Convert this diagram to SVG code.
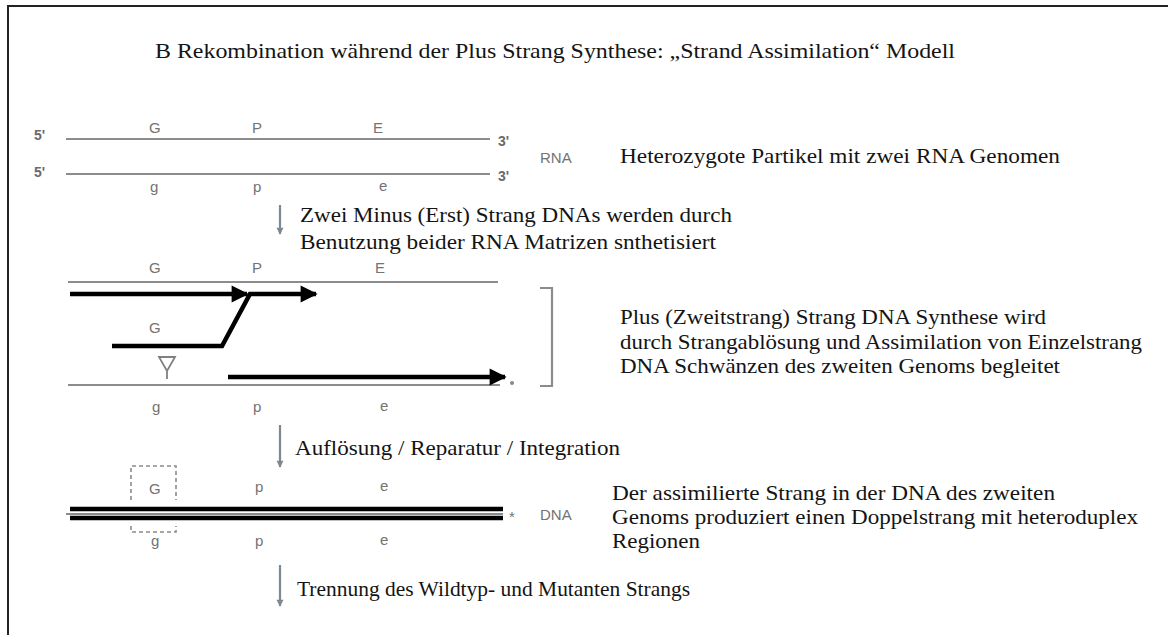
<svg xmlns="http://www.w3.org/2000/svg" width="1168" height="635" viewBox="0 0 1168 635">
  <style>
    .txt { font-family: 'Liberation Serif', 'DejaVu Serif', serif; font-size: 21.5px; fill: #141414; }
    .lbl { font-family: 'Liberation Sans', 'DejaVu Sans', sans-serif; font-size: 15px; fill: #737373; }
    .lblb { font-family: 'Liberation Sans', 'DejaVu Sans', sans-serif; font-size: 14px; font-weight: bold; fill: #6a6a6a; }
    .strand { stroke: #8c8c8c; stroke-width: 2.2; fill: none; }
    .dna { stroke: #000; stroke-width: 4.5; fill: none; }
    .bold { stroke: #000; stroke-width: 4.5; fill: none; stroke-linejoin: miter; }
    .step { stroke: #7e8890; stroke-width: 2.2; fill: none; }
  </style>
  <defs>
    <marker id="headBlack" viewBox="0 0 10 10" refX="9" refY="5" markerWidth="4.6" markerHeight="3.8" markerUnits="strokeWidth" orient="auto">
      <path d="M0,0 L10,5 L0,10 Z" fill="#000"/>
    </marker>
    <marker id="headGray" viewBox="0 0 10 10" refX="9" refY="5" markerWidth="7" markerHeight="3.2" markerUnits="strokeWidth" orient="auto">
      <path d="M0,0 L10,5 L0,10 Z" fill="#7e8890"/>
    </marker>
  </defs>

  <rect width="1168" height="635" fill="#ffffff"/>
  <!-- frame -->
  <rect x="8" y="6" width="1200" height="660" fill="none" stroke="#222" stroke-width="2"/>

  <!-- title -->
  <text class="txt" x="155" y="58" textLength="800" lengthAdjust="spacingAndGlyphs">B Rekombination während der Plus Strang Synthese: „Strand Assimilation“ Modell</text>

  <!-- RNA genomes -->
  <g id="rna">
    <line class="strand" x1="66" y1="139" x2="490" y2="139"/>
    <line class="strand" x1="66" y1="174" x2="490" y2="174"/>
    <text class="lblb" x="34" y="140">5'</text>
    <text class="lblb" x="498" y="146">3'</text>
    <text class="lblb" x="34" y="177">5'</text>
    <text class="lblb" x="498" y="181">3'</text>
    <text class="lbl" x="540" y="163">RNA</text>
    <text class="lbl" x="149" y="133">G</text>
    <text class="lbl" x="252" y="133">P</text>
    <text class="lbl" x="373" y="133">E</text>
    <text class="lbl" x="150" y="192">g</text>
    <text class="lbl" x="253" y="192">p</text>
    <text class="lbl" x="379" y="191">e</text>
  </g>
  <g id="text-rna">
    <text class="txt" x="620" y="163" textLength="440" lengthAdjust="spacingAndGlyphs">Heterozygote Partikel mit zwei RNA Genomen</text>
  </g>

  <!-- intermediate: minus strands and plus strand assimilation -->
  <g id="synthesis">
    <line class="strand" x1="68" y1="282" x2="498" y2="282"/>
    <line class="strand" x1="68" y1="385" x2="500" y2="385"/>
    <text class="lbl" x="149" y="273">G</text>
    <text class="lbl" x="252" y="273">P</text>
    <text class="lbl" x="375" y="273">E</text>
    <text class="lbl" x="149" y="333">G</text>
    <path d="M159,357 H175 L167,371 Z M167,371 V379" fill="none" stroke="#808080" stroke-width="1.8"/>
    <circle cx="512" cy="383" r="2" fill="#888"/>
    <path class="strand" d="M540,288 H552 V386 H540" stroke-width="2.5"/>
    <text class="lbl" x="152" y="412">g</text>
    <text class="lbl" x="253" y="412">p</text>
    <text class="lbl" x="380" y="411">e</text>
  </g>
  <g id="text-synthesis">
    <text class="txt" x="620" y="324" textLength="426" lengthAdjust="spacingAndGlyphs">Plus (Zweitstrang) Strang DNA Synthese wird</text>
    <text class="txt" x="620" y="349" textLength="522" lengthAdjust="spacingAndGlyphs">durch Strangablösung und Assimilation von Einzelstrang</text>
    <text class="txt" x="620" y="373" textLength="440" lengthAdjust="spacingAndGlyphs">DNA Schwänzen des zweiten Genoms begleitet</text>
  </g>

  <!-- resulting heteroduplex DNA -->
  <g id="dna">
    <line class="strand" x1="66" y1="514" x2="503" y2="514"/>
    <path d="M131,500 V466 H176 V500 M131,526 V532 H176 V526" fill="none" stroke="#8a8a8a" stroke-width="1.6" stroke-dasharray="4,3"/>
    <text class="lbl" x="149" y="494">G</text>
    <text class="lbl" x="255" y="492">p</text>
    <text class="lbl" x="380" y="491">e</text>
    <text class="lbl" x="151" y="546">g</text>
    <text class="lbl" x="255" y="546">p</text>
    <text class="lbl" x="380" y="545">e</text>
    <text class="lbl" x="509" y="522">*</text>
    <text class="lbl" x="540" y="520">DNA</text>
  </g>
  <g id="text-dna">
    <text class="txt" x="612" y="500" textLength="443" lengthAdjust="spacingAndGlyphs">Der assimilierte Strang in der DNA des zweiten</text>
    <text class="txt" x="612" y="524" textLength="526" lengthAdjust="spacingAndGlyphs">Genoms produziert einen Doppelstrang mit heteroduplex</text>
    <text class="txt" x="612" y="548" textLength="88" lengthAdjust="spacingAndGlyphs">Regionen</text>
  </g>

  <!-- step labels -->
  <g id="step-labels">
    <text class="txt" x="300" y="222" textLength="432" lengthAdjust="spacingAndGlyphs">Zwei Minus (Erst) Strang DNAs werden durch</text>
    <text class="txt" x="300" y="249" textLength="416" lengthAdjust="spacingAndGlyphs">Benutzung beider RNA Matrizen snthetisiert</text>
    <text class="txt" x="295" y="455" textLength="325" lengthAdjust="spacingAndGlyphs">Auflösung / Reparatur / Integration</text>
    <text class="txt" x="297" y="596" textLength="393" lengthAdjust="spacingAndGlyphs">Trennung des Wildtyp- und Mutanten Strangs</text>
  </g>

  <!-- connectors -->
  <g id="connectors">
    <line class="step" x1="280" y1="205" x2="280" y2="234" marker-end="url(#headGray)"/>
    <line class="step" x1="280" y1="425" x2="280" y2="467" marker-end="url(#headGray)"/>
    <line class="step" x1="280" y1="565" x2="280" y2="606" marker-end="url(#headGray)"/>
    <line class="bold" x1="70" y1="294" x2="247" y2="294" marker-end="url(#headBlack)"/>
    <path class="bold" d="M112,346 H222 L250,294 H316" marker-end="url(#headBlack)"/>
    <line class="bold" x1="228" y1="377" x2="505" y2="377" marker-end="url(#headBlack)"/>
    <line class="dna" x1="70" y1="509" x2="503" y2="509"/>
    <line class="dna" x1="70" y1="518" x2="503" y2="518"/>
  </g>
</svg>
